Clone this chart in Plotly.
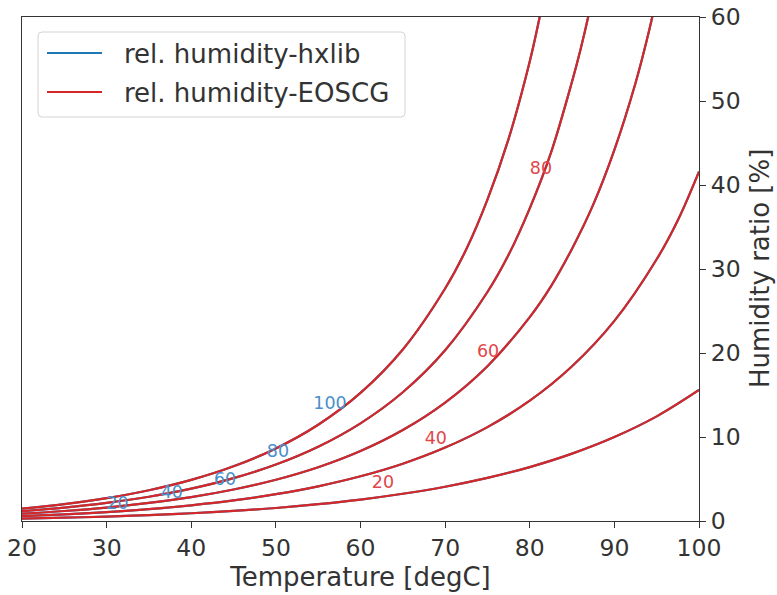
import plotly.graph_objects as go

# Temperatures [degC] and humidity ratio [%] per relative-humidity level
t_100 = [20, 25, 30, 35, 40, 45, 50, 55, 60, 65, 70, 72.5, 75, 77.5, 80, 81, 82]
x_100 = [1.47, 2.01, 2.72, 3.66, 4.89, 6.51, 8.64, 11.46, 15.25, 20.42, 27.68, 32.35, 38.27, 45.49, 54.71, 59.17, 64.04]

t_80 = [20, 25, 30, 35, 40, 45, 50, 55, 60, 65, 70, 75, 77.5, 80, 82.5, 85, 86, 87, 88]
x_80 = [1.17, 1.60, 2.16, 2.89, 3.85, 5.10, 6.72, 8.84, 11.63, 15.33, 20.33, 27.26, 31.69, 37.22, 43.82, 52.32, 56.14, 60.45, 65.44]

t_60 = [20, 25, 30, 35, 40, 45, 50, 55, 60, 65, 70, 75, 80, 82.5, 85, 87.5, 90, 92.5, 94, 95]
x_60 = [0.87, 1.19, 1.60, 2.15, 2.84, 3.75, 4.91, 6.40, 8.33, 10.83, 14.10, 18.43, 24.28, 27.94, 32.42, 37.66, 44.18, 52.15, 57.95, 62.37]

t_40 = [20, 25, 30, 35, 40, 45, 50, 55, 60, 65, 70, 75, 80, 85, 90, 95, 97.5, 100]
x_40 = [0.58, 0.79, 1.06, 1.41, 1.87, 2.45, 3.19, 4.13, 5.32, 6.82, 8.74, 11.18, 14.32, 18.42, 23.82, 31.16, 35.81, 41.6]

t_20 = [20, 25, 30, 35, 40, 45, 50, 55, 60, 65, 70, 75, 80, 85, 90, 95, 100]
x_20 = [0.29, 0.39, 0.53, 0.70, 0.92, 1.20, 1.55, 2.00, 2.55, 3.24, 4.08, 5.13, 6.42, 8.02, 10.00, 12.46, 15.6]

rh_levels = ["20", "40", "60", "80", "100"]

# contour label positions (temperature, humidity ratio) as seen in the chart
hx_label_t = [31.3, 37.7, 44.0, 50.25, 56.4]
hx_label_x = [1.9, 3.2, 4.76, 8.1, 13.8]
eo_label_t = [62.66, 68.9, 75.07, 81.33]
eo_label_x = [4.4, 9.64, 20.0, 41.8]
eo_label_txt = ["20", "40", "60", "80"]

series_names = ["rel. humidity-hxlib", "rel. humidity-EOSCG"]

BLUE = "#1f77b4"
RED = "#d62728"
TXT = "#333333"
FONT = "DejaVu Sans"

curves = [(t_20, x_20), (t_40, x_40), (t_60, x_60), (t_80, x_80), (t_100, x_100)]

fig = go.Figure()
for i, (t, x) in enumerate(curves):
    fig.add_trace(go.Scatter(x=t, y=x, mode="lines", line=dict(color=BLUE, width=2.2, shape="spline"),
                             name=series_names[0], legendgroup="hx", showlegend=False))
for i, (t, x) in enumerate(curves):
    fig.add_trace(go.Scatter(x=t, y=x, mode="lines", line=dict(color=RED, width=2.2, shape="spline"),
                             name=series_names[1], legendgroup="eo", showlegend=False))

# labels
fig.add_trace(go.Scatter(x=hx_label_t, y=hx_label_x, mode="text", text=rh_levels,
                         textfont=dict(color="#4a8fc9", size=17.5, family=FONT),
                         showlegend=False, hoverinfo="skip"))
fig.add_trace(go.Scatter(x=eo_label_t, y=eo_label_x, mode="text", text=eo_label_txt,
                         textfont=dict(color="#e0474a", size=17.5, family=FONT),
                         showlegend=False, hoverinfo="skip"))

axis_common = dict(showline=True, linecolor=TXT, linewidth=1, mirror=True, automargin=False,
                   ticks="outside", ticklen=6, tickcolor=TXT, showgrid=False, zeroline=False,
                   tickfont=dict(size=23.5, color=TXT, family=FONT))

# ---- custom legend (matplotlib style box) in paper coordinates ----
W, H = 677.0, 504.0  # plot area size in px
def px(xp):
    return (xp - 22) / W
def py(yp):
    return (521 - yp) / H

x0, x1, y0, y1 = px(38), px(405), py(117), py(32)
rx, ry = 4 / W, 4 / H
path = (f"M{x0+rx},{y0} L{x1-rx},{y0} Q{x1},{y0} {x1},{y0+ry} L{x1},{y1-ry} Q{x1},{y1} {x1-rx},{y1} "
        f"L{x0+rx},{y1} Q{x0},{y1} {x0},{y1-ry} L{x0},{y0+ry} Q{x0},{y0} {x0+rx},{y0} Z")
shapes = [dict(type="path", xref="paper", yref="paper", path=path,
               line=dict(color="#d4d4d4", width=1), fillcolor="rgba(255,255,255,0.85)", layer="above")]
annotations = []
for name, col, yrow in [(series_names[0], BLUE, 53), (series_names[1], RED, 92)]:
    shapes.append(dict(type="line", xref="paper", yref="paper", x0=px(47), x1=px(102),
                       y0=py(yrow), y1=py(yrow), line=dict(color=col, width=2.2), layer="above"))
    annotations.append(dict(xref="paper", yref="paper", x=px(122), y=py(yrow + 1), text=name,
                            showarrow=False, xanchor="left", yanchor="middle",
                            font=dict(size=26, color=TXT, family=FONT)))

# y-axis title (right side)
annotations.append(dict(xref="paper", yref="paper", x=px(760), y=0.5, text="Humidity ratio [%]",
                        textangle=-90, showarrow=False, xanchor="center", yanchor="middle",
                        font=dict(size=26, color=TXT, family=FONT)))

fig.update_layout(
    width=777, height=595,
    margin=dict(l=22, r=78, t=17, b=74),
    paper_bgcolor="white", plot_bgcolor="white",
    font=dict(family=FONT, color=TXT),
    showlegend=False,
    shapes=shapes, annotations=annotations,
    xaxis=dict(range=[20, 100], tickvals=[20, 30, 40, 50, 60, 70, 80, 90, 100],
               title=dict(text="Temperature [degC]", font=dict(size=26, color=TXT, family=FONT), standoff=4),
               **axis_common),
    yaxis=dict(range=[0, 60], side="right", tickvals=[0, 10, 20, 30, 40, 50, 60],
               **axis_common),
)

fig.write_html("out.html")
